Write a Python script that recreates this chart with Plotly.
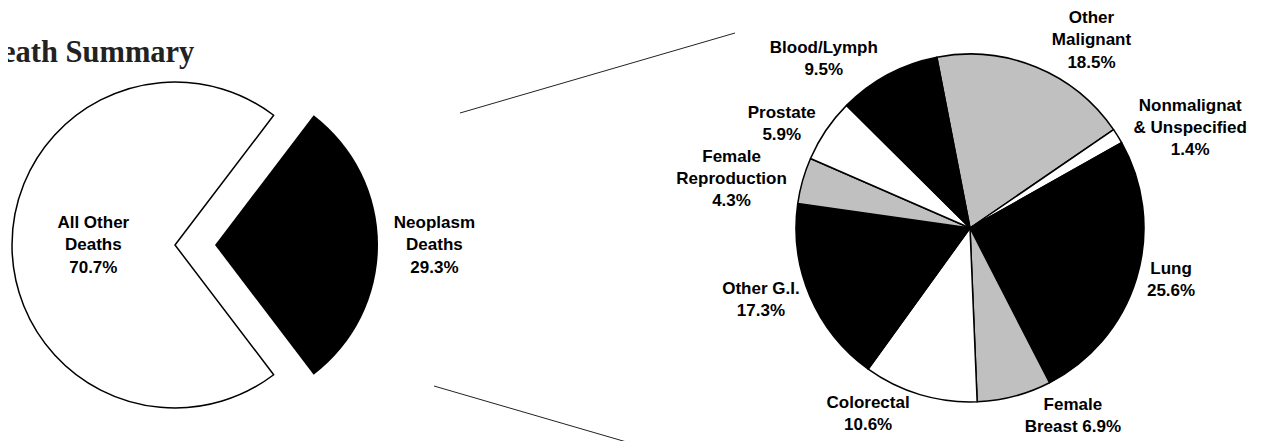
import plotly.graph_objects as go

# ---------------- data ----------------
summary_labels = ["Neoplasm<br>Deaths", "All Other<br>Deaths"]
summary_values = [29.3, 70.7]

neoplasm_labels = ["Other<br>Malignant", "Nonmalignat<br>& Unspecified", "Lung",
                   "Female<br>Breast", "Colorectal", "Other G.I.",
                   "Female<br>Reproduction", "Prostate", "Blood/Lymph"]
neoplasm_values = [18.5, 1.4, 25.6, 6.9, 10.6, 17.3, 4.3, 5.9, 9.5]
# separator between label and percent ("<br>" normally; Female Breast keeps it on one line)
neoplasm_sep = ["<br>", "<br>", "<br>", " ", "<br>", "<br>", "<br>", "<br>", "<br>"]

title_text = "Death Summary"

# ---------------- styles ----------------
W, H = 1279, 441
OFF = 8  # browser body margin; positions below are page pixels
GRAY = "#c0c0c0"
neoplasm_colors = [GRAY, "white", "black", GRAY, "white", "black", GRAY, "white", "black"]
FONT = dict(family="Arial, Liberation Sans, sans-serif", size=17, color="black", weight="bold")
CLEAR = "rgba(0,0,0,0)"


def px(x):
    return (x - OFF) / W


def py(y):
    return 1 - (y - OFF) / H


def dom(cx, cy, r):
    return dict(x=[px(cx - r), px(cx + r)], y=[py(cy + r), py(cy - r)])


def fmt(v):
    return f"{v:.1f}%"


left_rotation = 90 - summary_values[0] * 3.6 / 2

fig = go.Figure()

# base (unpulled) slice: All Other Deaths
fig.add_trace(go.Pie(
    labels=summary_labels, values=summary_values, sort=False, direction="clockwise",
    rotation=left_rotation, domain=dom(175, 245, 163),
    marker=dict(colors=[CLEAR, "white"], line=dict(color=[CLEAR, "black"], width=[0, 1.5])),
    text=["", f"{summary_labels[1]}<br>{fmt(summary_values[1])}"],
    textinfo="text", textposition=["none", "inside"], insidetextorientation="horizontal",
    textfont=FONT, insidetextfont=FONT, hoverinfo="skip", showlegend=False,
))

# exploded slice: Neoplasm Deaths
fig.add_trace(go.Pie(
    labels=summary_labels, values=summary_values, sort=False, direction="clockwise",
    rotation=left_rotation, domain=dom(215, 245, 163),
    marker=dict(colors=["black", CLEAR], line=dict(color=["black", CLEAR], width=[0, 0])),
    text=[f"{summary_labels[0]}<br>{fmt(summary_values[0])}", ""],
    textinfo="text", textposition=["outside", "none"],
    textfont=FONT, outsidetextfont=FONT, hoverinfo="skip", showlegend=False,
))

# neoplasm breakdown
fig.add_trace(go.Pie(
    labels=neoplasm_labels, values=neoplasm_values, sort=False, direction="clockwise",
    rotation=-11, domain=dom(970, 228, 174),
    marker=dict(colors=neoplasm_colors, line=dict(color="black", width=1.5)),
    text=[f"{l}{s}{fmt(v)}" for l, s, v in zip(neoplasm_labels, neoplasm_sep, neoplasm_values)],
    textinfo="text", textposition="outside",
    textfont=FONT, outsidetextfont=FONT, hoverinfo="skip", showlegend=False,
))

# connector lines between the two pies (page pixels)
connectors = [((460, 113), (735, 33)), ((434, 386), (630, 443))]
for (x0, y0), (x1, y1) in connectors:
    fig.add_shape(type="line", xref="paper", yref="paper",
                  x0=px(x0), y0=py(y0), x1=px(x1), y1=py(y1),
                  line=dict(color="#222222", width=1))

fig.add_annotation(text=title_text, xref="paper", yref="paper",
                   x=px(-22), y=py(52), xanchor="left", yanchor="middle",
                   showarrow=False,
                   font=dict(family="Times New Roman, Liberation Serif, serif", size=30.5,
                             color="#222222", weight="bold"))

fig.update_layout(width=W, height=H,
                  margin=dict(l=0, r=0, t=0, b=0, autoexpand=False),
                  paper_bgcolor="white", plot_bgcolor="white", showlegend=False)

fig.write_html("out.html")
